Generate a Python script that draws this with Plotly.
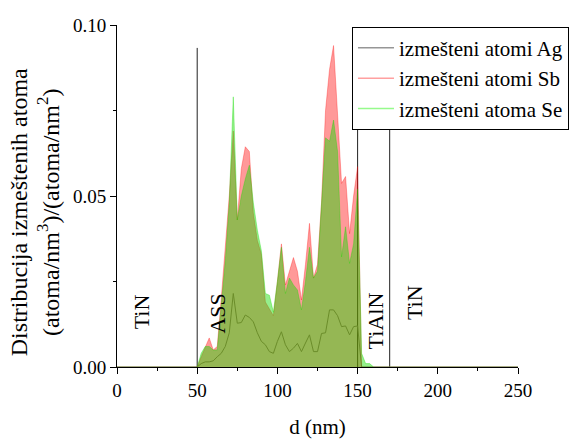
import plotly.graph_objects as go

# ---- data ----
d_nm = [0, 47.5, 50, 52.5, 55, 57.5, 60, 62.5, 65, 67.5, 70, 72.5, 75, 77.5, 80, 82.5,
        85, 87.5, 90, 92.5, 95, 97.5, 100, 102.5, 105, 107.5, 110, 112.5, 115, 117.5,
        120, 122.5, 125, 127.5, 130, 132.5, 135, 137.5, 140, 142.5, 145, 147.5, 150,
        152.5, 155, 157.5, 160, 250]

ag = [0, 0, 0, 0.001, 0.0015, 0.0015, 0.0018, 0.003, 0.004, 0.006, 0.010, 0.0215, 0.0128,
      0.013, 0.0152, 0.0145, 0.0132, 0.010, 0.0075, 0.0065, 0.0045, 0.004, 0.0075, 0.0103,
      0.0065, 0.0045, 0.0055, 0.0069, 0.0045, 0.007, 0.0094, 0.0045, 0.0045, 0.0098, 0.0100,
      0.0167, 0.0167, 0.0150, 0.0118, 0.012, 0.0094, 0.0118, 0.012, 0, 0, 0, 0, 0]

sb = [0, 0, 0, 0.003, 0.006, 0.0085, 0.005, 0.006, 0.020, 0.034, 0.050, 0.069, 0.043,
      0.058, 0.0644, 0.063, 0.045, 0.037, 0.033, 0.019, 0.017, 0.015, 0.025, 0.036, 0.024,
      0.028, 0.032, 0.028, 0.0196, 0.030, 0.042, 0.026, 0.030, 0.048, 0.075, 0.087, 0.094,
      0.074, 0.0537, 0.0557, 0.039, 0.050, 0.0586, 0, 0, 0, 0, 0]

se = [0, 0, 0, 0.004, 0.006, 0.006, 0.005, 0.005, 0.018, 0.031, 0.048, 0.079, 0.043,
      0.050, 0.055, 0.059, 0.048, 0.040, 0.034, 0.0215, 0.021, 0.016, 0.025, 0.035, 0.0215,
      0.026, 0.024, 0.0225, 0.0167, 0.025, 0.035, 0.026, 0.028, 0.048, 0.067, 0.066, 0.0722,
      0.063, 0.0322, 0.041, 0.0303, 0.036, 0.052, 0.004, 0.001, 0.001, 0, 0]

series_names = ["izmešteni atomi Ag", "izmešteni atomi Sb", "izmešteni atoma Se"]
boundaries = [50, 150, 170]
region_labels = ["TiN", "ASS", "TiAlN", "TiN"]
region_label_x = [15, 62.7, 161.2, 185.2]
region_label_y = [0.016, 0.0155, 0.0135, 0.0187]

FONT = "Liberation Serif"

fig = go.Figure()

# Ag line (drawn first, under the fills)
fig.add_trace(go.Scatter(x=d_nm, y=ag, mode="lines", showlegend=False,
                         line=dict(color="rgb(128,128,128)", width=1)))
# Sb fill
fig.add_trace(go.Scatter(x=d_nm, y=sb, mode="lines", fill="tozeroy", showlegend=False,
                         fillcolor="rgba(255,0,0,0.4)",
                         line=dict(color="rgba(255,0,0,0.3)", width=1)))
# Se fill
fig.add_trace(go.Scatter(x=d_nm, y=se, mode="lines", fill="tozeroy", showlegend=False,
                         fillcolor="rgba(20,220,0,0.45)",
                         line=dict(color="rgba(20,220,0,0.35)", width=1)))

# legend entries (line only)
legend_colors = ["rgb(150,150,150)", "rgb(255,160,160)", "rgb(150,250,140)"]
for name, col in zip(series_names, legend_colors):
    fig.add_trace(go.Scatter(x=[None], y=[None], mode="lines", name=name,
                             line=dict(color=col, width=1.5)))

for b in boundaries:
    fig.add_shape(type="line", x0=b, x1=b, y0=0, y1=0.0933, xref="x", yref="y",
                  line=dict(color="#222", width=1), layer="below")

for t, lx, ly in zip(region_labels, region_label_x, region_label_y):
    fig.add_annotation(x=lx, y=ly, xref="x", yref="y", text=t, textangle=-90,
                       showarrow=False, font=dict(family=FONT, size=22, color="black"))

fig.add_annotation(xref="paper", yref="paper", x=-0.205, y=0.452, xanchor="center",
                   yanchor="middle", textangle=-90, showarrow=False,
                   text="Distribucija izmeštenih atoma<br>(atoma/nm<sup>3</sup>)/(atoma/nm<sup>2</sup>)",
                   font=dict(family=FONT, size=24, color="black"))

fig.update_layout(
    width=569, height=439,
    margin=dict(l=117, r=51, t=25, b=72, autoexpand=False),
    paper_bgcolor="white", plot_bgcolor="white",
    font=dict(family=FONT, size=20, color="black"),
    legend=dict(x=0.586, y=0.995, xanchor="left", yanchor="top", itemwidth=36,
                bgcolor="white", bordercolor="black", borderwidth=1,
                font=dict(family=FONT, size=21, color="black")),
    xaxis=dict(range=[0, 250], tickvals=[0, 50, 100, 150, 200, 250],
               showline=True, linecolor="black", linewidth=1, mirror=False,
               ticks="outside", ticklen=6, tickcolor="black", showgrid=False, zeroline=False,
               minor=dict(dtick=25, ticks="outside", ticklen=3, tickcolor="black", showgrid=False),
               title=dict(text="d (nm)", font=dict(family=FONT, size=21), standoff=19),
               tickfont=dict(family=FONT, size=19)),
    yaxis=dict(range=[0, 0.10], tickvals=[0, 0.05, 0.10], tickformat=".2f",
               showline=True, linecolor="black", linewidth=1, mirror=False,
               ticks="outside", ticklen=6, tickcolor="black", showgrid=False, zeroline=False,
               minor=dict(dtick=0.025, ticks="outside", ticklen=3, tickcolor="black", showgrid=False),
               tickfont=dict(family=FONT, size=19)),
)

fig.write_html("out.html", config={"displayModeBar": False},
               post_script="document.body.style.margin='0';document.body.style.overflow='hidden';")
